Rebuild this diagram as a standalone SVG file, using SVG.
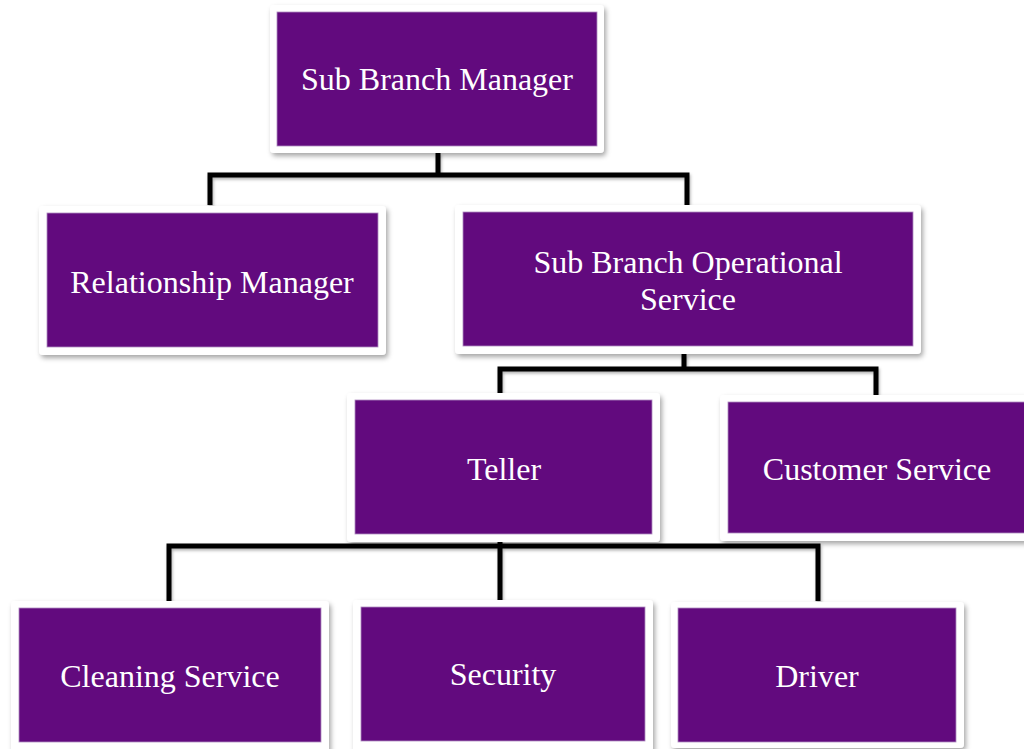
<svg xmlns="http://www.w3.org/2000/svg" width="1024" height="749" viewBox="0 0 1024 749">
  <defs>
    <filter id="shadow" x="-10%" y="-10%" width="125%" height="130%">
      <feDropShadow dx="2" dy="3" stdDeviation="2.5" flood-color="#000" flood-opacity="0.35"/>
    </filter>
    <filter id="lineShadow" x="-5%" y="-50%" width="110%" height="200%">
      <feDropShadow dx="1" dy="2" stdDeviation="1.5" flood-color="#000" flood-opacity="0.3"/>
    </filter>
  </defs>
  <style>
    .frame { fill: #ffffff; filter: url(#shadow); }
    .box { fill: #620a7e; stroke: #b08cc0; stroke-width: 0.8; }
    .label { font-family: "Liberation Serif", "Times New Roman", serif; font-size: 32px; fill: #ffffff; text-anchor: middle; }
    .conn { fill: none; stroke: #000000; stroke-width: 5; stroke-linejoin: miter; stroke-linecap: butt; filter: url(#lineShadow); }
  </style>
  <rect width="1024" height="749" fill="#ffffff"/>

  <!-- connectors -->
  <g id="connectors">
    <path class="conn" d="M438 153 V175 M210 205 V175 H687 V205"/>
    <path class="conn" d="M684 354 V369 M500 400 V369 H876 V400"/>
    <path class="conn" d="M500 541 V546 M169 601 V546 H818 V601 M500 546 V601"/>
  </g>

  <g id="node-sub-branch-manager">
    <rect class="frame" x="270" y="5" width="334" height="148" rx="4"/>
    <rect class="box" x="277" y="12" width="320" height="134"/>
    <text class="label" x="437" y="90">Sub Branch Manager</text>
  </g>

  <g id="node-relationship-manager">
    <rect class="frame" x="39" y="206" width="347" height="149" rx="4"/>
    <rect class="box" x="47" y="213" width="331" height="134"/>
    <text class="label" x="212" y="293">Relationship Manager</text>
  </g>

  <g id="node-operational-service">
    <rect class="frame" x="455" y="205" width="466" height="149" rx="4"/>
    <rect class="box" x="463" y="212" width="450" height="134"/>
    <text class="label" x="688" y="273">Sub Branch Operational</text>
    <text class="label" x="688" y="310">Service</text>
  </g>

  <g id="node-teller">
    <rect class="frame" x="347" y="393" width="313" height="149" rx="4"/>
    <rect class="box" x="355" y="400" width="297" height="134"/>
    <text class="label" x="504" y="480">Teller</text>
  </g>

  <g id="node-customer-service">
    <rect class="frame" x="720" y="395" width="312" height="146" rx="4"/>
    <rect class="box" x="728" y="402" width="304" height="131"/>
    <text class="label" x="877" y="480">Customer Service</text>
  </g>

  <g id="node-cleaning-service">
    <rect class="frame" x="11" y="601" width="318" height="152" rx="4"/>
    <rect class="box" x="19" y="608" width="302" height="134"/>
    <text class="label" x="170" y="687">Cleaning Service</text>
  </g>

  <g id="node-security">
    <rect class="frame" x="353" y="600" width="300" height="152" rx="4"/>
    <rect class="box" x="361" y="607" width="284" height="134"/>
    <text class="label" x="503" y="685">Security</text>
  </g>

  <g id="node-driver">
    <rect class="frame" x="671" y="602" width="293" height="146" rx="4"/>
    <rect class="box" x="678" y="608" width="278" height="134"/>
    <text class="label" x="817" y="687">Driver</text>
  </g>
</svg>
